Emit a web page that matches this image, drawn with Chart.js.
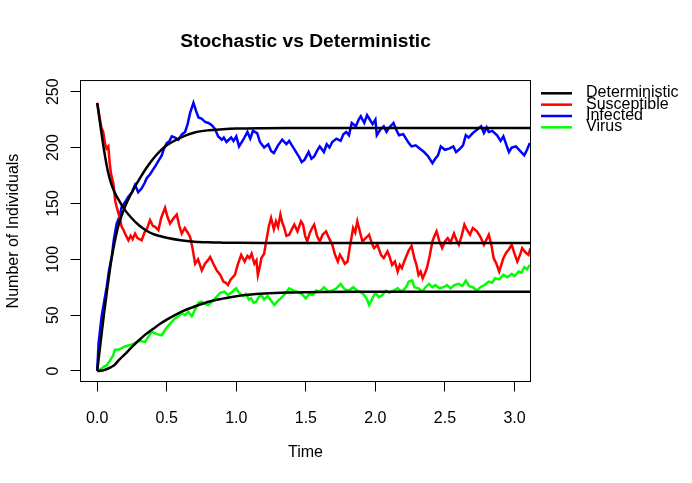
<!DOCTYPE html>
<html>
<head>
<meta charset="utf-8">
<script src="https://cdn.jsdelivr.net/npm/chart.js@4"></script>
<style>
  body { margin: 0; background: #fff; }
  canvas { display: block; }
</style>
</head>
<body>
<canvas id="myChart" width="692" height="483"></canvas>
<script>
// stochastic run
const infTime = [0, 0.01, 0.032, 0.05, 0.068, 0.085, 0.104, 0.12, 0.14, 0.16, 0.176, 0.2, 0.224, 0.25, 0.272, 0.295, 0.32, 0.34, 0.356, 0.38, 0.4, 0.416, 0.44, 0.464, 0.48, 0.5, 0.52, 0.536, 0.56, 0.584, 0.61, 0.632, 0.65, 0.668, 0.692, 0.71, 0.728, 0.75, 0.776, 0.8, 0.824, 0.845, 0.87, 0.896, 0.91, 0.93, 0.963, 0.98, 1.0, 1.02, 1.05, 1.08, 1.1, 1.12, 1.15, 1.17, 1.2, 1.23, 1.25, 1.27, 1.3, 1.33, 1.36, 1.38, 1.4, 1.43, 1.45, 1.47, 1.49, 1.52, 1.54, 1.56, 1.58, 1.6, 1.63, 1.65, 1.67, 1.69, 1.72, 1.75, 1.77, 1.79, 1.81, 1.83, 1.86, 1.88, 1.895, 1.92, 1.94, 1.955, 1.98, 2.0, 2.01, 2.035, 2.06, 2.08, 2.1, 2.13, 2.15, 2.17, 2.2, 2.22, 2.24, 2.26, 2.29, 2.32, 2.35, 2.38, 2.41, 2.43, 2.45, 2.47, 2.5, 2.53, 2.56, 2.58, 2.6, 2.63, 2.65, 2.67, 2.7, 2.73, 2.76, 2.78, 2.8, 2.815, 2.84, 2.875, 2.9, 2.92, 2.94, 2.96, 2.98, 3.01, 3.04, 3.07, 3.09, 3.11];
const infected = [0, 25, 49, 62, 75, 90, 102, 118, 132, 138, 147, 151, 156, 160, 166.5, 160, 163.5, 168, 172.5, 176, 180, 183, 188, 193, 199, 204, 206, 210, 209, 207, 212, 214, 221, 231, 240, 233, 227, 226, 223, 222, 220, 217, 210, 207, 209, 205, 209, 206, 210, 201, 207, 214, 208, 215, 213, 205, 200, 203, 197, 195, 202, 207, 203, 206, 202, 196, 192, 187, 189, 196, 190, 192, 197, 201, 196, 203, 200, 205, 208, 206, 212, 214, 211, 222, 219, 225, 228, 222, 229, 226, 221, 225, 211, 216, 219, 214, 218, 222, 216, 211, 212, 208, 204, 201, 202, 199, 196, 192, 186, 190, 193, 201, 198, 199, 201, 196, 198, 202, 211, 209, 213, 216, 219, 213, 218, 214, 215, 211, 206, 210, 203, 196, 200, 201, 197, 193, 198, 204];

const susTime = [0, 0.01, 0.02, 0.03, 0.043, 0.056, 0.067, 0.08, 0.09, 0.1, 0.116, 0.13, 0.14, 0.16, 0.176, 0.19, 0.2, 0.224, 0.24, 0.255, 0.272, 0.29, 0.32, 0.34, 0.36, 0.38, 0.4, 0.416, 0.44, 0.46, 0.488, 0.505, 0.524, 0.545, 0.572, 0.59, 0.608, 0.63, 0.65, 0.668, 0.685, 0.704, 0.725, 0.752, 0.775, 0.795, 0.812, 0.835, 0.86, 0.885, 0.907, 0.925, 0.94, 0.96, 0.99, 1.01, 1.035, 1.06, 1.08, 1.095, 1.11, 1.13, 1.145, 1.155, 1.17, 1.18, 1.2, 1.215, 1.235, 1.25, 1.27, 1.285, 1.3, 1.317, 1.33, 1.345, 1.36, 1.38, 1.4, 1.417, 1.44, 1.465, 1.48, 1.495, 1.51, 1.53, 1.545, 1.56, 1.58, 1.6, 1.62, 1.645, 1.67, 1.69, 1.71, 1.73, 1.745, 1.76, 1.78, 1.8, 1.815, 1.84, 1.855, 1.87, 1.89, 1.907, 1.93, 1.955, 1.975, 1.99, 2.015, 2.04, 2.06, 2.087, 2.1, 2.12, 2.14, 2.16, 2.175, 2.19, 2.21, 2.24, 2.26, 2.28, 2.295, 2.31, 2.325, 2.34, 2.355, 2.37, 2.39, 2.41, 2.425, 2.44, 2.46, 2.48, 2.5, 2.52, 2.54, 2.565, 2.58, 2.6, 2.62, 2.64, 2.66, 2.68, 2.7, 2.73, 2.755, 2.78, 2.8, 2.815, 2.835, 2.85, 2.87, 2.89, 2.905, 2.92, 2.94, 2.96, 2.98, 3.0, 3.02, 3.04, 3.055, 3.08, 3.1, 3.115];
const susceptible = [240, 233, 225, 218, 214, 204, 199, 201, 186, 176, 168, 152, 147, 138, 129, 126, 123, 117, 121, 118, 123, 119, 117, 124, 128, 135, 130, 129, 126, 137, 146, 138, 132, 136, 140, 130, 123, 128, 124, 120, 110, 96, 100, 90, 96, 99, 102, 96, 90, 86, 80, 79, 77, 82, 86, 95, 104, 98, 103, 101, 105, 96, 99, 86, 94, 101, 105, 116, 130, 137, 127, 134, 129, 140, 133, 128, 121, 122, 127, 131, 125, 134, 131, 121, 116, 124, 128, 131, 121, 116, 122, 125, 118, 113, 104, 98, 104, 101, 96, 98, 110, 128, 124, 134, 124, 116, 119, 122, 114, 110, 113, 104, 101, 107, 103, 95, 98, 89, 95, 92, 99, 108, 112, 101, 95, 86, 89, 83, 87, 92, 103, 116, 121, 125, 116, 110, 116, 119, 115, 123, 118, 113, 121, 131, 126, 122, 128, 125, 120, 113, 118, 122, 112, 101, 96, 89, 95, 101, 106, 109, 113, 105, 98, 104, 110, 106, 104, 110];

const virTime = [0, 0.03, 0.05, 0.067, 0.09, 0.115, 0.128, 0.15, 0.17, 0.2, 0.23, 0.272, 0.3, 0.344, 0.37, 0.392, 0.43, 0.464, 0.5, 0.536, 0.56, 0.585, 0.608, 0.63, 0.655, 0.68, 0.7, 0.728, 0.75, 0.775, 0.8, 0.83, 0.856, 0.884, 0.915, 0.94, 0.963, 0.98, 1.0, 1.02, 1.047, 1.07, 1.09, 1.107, 1.125, 1.143, 1.16, 1.18, 1.2, 1.225, 1.25, 1.274, 1.3, 1.32, 1.35, 1.38, 1.41, 1.44, 1.47, 1.5, 1.525, 1.55, 1.575, 1.6, 1.63, 1.66, 1.69, 1.72, 1.75, 1.78, 1.81, 1.84, 1.87, 1.9, 1.92, 1.94, 1.955, 1.975, 2.0, 2.025, 2.05, 2.075, 2.1, 2.13, 2.16, 2.19, 2.22, 2.24, 2.265, 2.28, 2.31, 2.34, 2.36, 2.385, 2.41, 2.43, 2.46, 2.49, 2.515, 2.54, 2.57, 2.6, 2.625, 2.65, 2.675, 2.7, 2.73, 2.755, 2.785, 2.815, 2.84, 2.86, 2.89, 2.92, 2.95, 2.98, 3.0, 3.03, 3.05, 3.07, 3.09, 3.11];
const virus = [0, 2, 4, 5, 9, 14, 19, 19, 20, 22, 23, 25, 27, 26, 31, 35, 33, 32, 39, 44, 47, 49, 52, 50, 53, 49, 54, 61, 62, 60, 59, 63, 66, 70, 71, 68, 70, 72, 74, 70, 67, 69, 64, 65, 61, 62, 66, 68, 64, 67, 63, 59, 63, 65, 69, 74, 72, 71, 69, 65, 69, 68, 72, 71, 75, 71, 72, 74, 78, 73, 72, 75, 72, 70, 68, 64, 59, 64, 70, 66, 68, 72, 70, 72, 74, 71, 75, 80, 81, 75, 74, 71, 75, 78, 75, 77, 74, 75, 77, 74, 77, 78, 76, 81, 76, 75, 72, 75, 77, 80, 79, 83, 82, 86, 84, 87, 85, 89, 88, 93, 91, 95];

// deterministic solution
const detTime = [0, 0.025, 0.05, 0.075, 0.1, 0.125, 0.15, 0.2, 0.25, 0.3, 0.35, 0.4, 0.45, 0.5, 0.6, 0.7, 0.8, 0.9, 1.0, 1.2, 1.4, 1.6, 2.0, 2.5, 3.2];
const detS = [240, 218, 197, 180, 168, 160, 154, 144, 136.5, 130.5, 126, 122.8, 120.8, 119.2, 117, 115.8, 115.2, 114.9, 114.7, 114.5, 114.5, 114.5, 114.5, 114.5, 114.5];
const detI = [0, 26, 52, 76, 98, 115, 129, 147, 160, 171, 181, 189.5, 196.5, 202, 209, 213.5, 215.5, 216.4, 217, 217.4, 217.5, 217.5, 217.5, 217.5, 217.5];
const detV = [0, 0.2, 0.8, 2, 3.5, 5.5, 9, 15, 21.5, 27.5, 33, 37.5, 42, 46, 52.8, 57.7, 62, 64.8, 67, 69.3, 70.3, 70.8, 71, 71, 71];

const xTicks = [0, 0.5, 1, 1.5, 2, 2.5, 3];
const yTicks = [0, 50, 100, 150, 200, 250];
const legendNames = ["Deterministic", "Susceptible", "Infected", "Virus"];
const legendColors = ["#000000", "#ff0000", "#0000ff", "#00ff00"];

const FONT = "'Liberation Sans', Arial, Helvetica, sans-serif";

function pts(t, v) {
  return t.map((x, i) => ({ x: x, y: v[i] }));
}

function detLine(v) {
  return {
    data: pts(detTime, v),
    borderColor: "#000000",
    borderWidth: 2.5,
    pointRadius: 0,
    cubicInterpolationMode: "monotone",
  };
}

function stochLine(t, v, color) {
  return {
    data: pts(t, v),
    borderColor: color,
    borderWidth: 2.5,
    pointRadius: 0,
    tension: 0,
  };
}

// box round the plot + R style legend on the right
const rBits = {
  id: "rBits",
  afterDraw(chart) {
    const ctx = chart.ctx;
    const a = chart.chartArea;
    ctx.save();
    ctx.strokeStyle = "#000";
    ctx.lineWidth = 1;
    ctx.strokeRect(a.left, a.top, a.right - a.left, a.bottom - a.top);

    ctx.font = "16px " + FONT;
    ctx.textBaseline = "middle";
    ctx.textAlign = "left";
    for (let i = 0; i < legendNames.length; i++) {
      let y = 93.3 + i * 11.35;
      ctx.strokeStyle = legendColors[i];
      ctx.lineWidth = 2.5;
      ctx.beginPath();
      ctx.moveTo(541, y);
      ctx.lineTo(572, y);
      ctx.stroke();
      ctx.fillStyle = "#000";
      ctx.fillText(legendNames[i], 586, y - 0.5);
    }
    ctx.restore();
  },
};

const config = {
  type: "line",
  data: {
    datasets: [
      detLine(detS),
      detLine(detI),
      detLine(detV),
      stochLine(susTime, susceptible, legendColors[1]),
      stochLine(infTime, infected, legendColors[2]),
      stochLine(virTime, virus, legendColors[3]),
    ],
  },
  options: {
    responsive: false,
    animation: false,
    devicePixelRatio: 1,
    layout: { padding: { left: 0, right: 161.5, top: 0, bottom: 0 } },
    plugins: {
      legend: { display: false },
      tooltip: { enabled: false },
      title: {
        display: true,
        text: "Stochastic vs Deterministic",
        fullSize: false,
        color: "#000",
        font: { family: FONT, size: 19.2, weight: "bold" },
        padding: { top: 30, bottom: 27.5 },
      },
    },
    scales: {
      x: {
        type: "linear",
        min: -0.12,
        max: 3.115,
        afterFit: (s) => { s.height = 101.5; },
        afterBuildTicks: (s) => { s.ticks = xTicks.map((v) => ({ value: v })); },
        border: { display: false },
        grid: { drawOnChartArea: false, drawTicks: true, tickLength: 10, color: "#000" },
        ticks: {
          color: "#000",
          font: { family: FONT, size: 16 },
          padding: 17,
          maxRotation: 0,
          autoSkip: false,
          callback: (v) => v.toFixed(1),
        },
        title: {
          display: true,
          text: "Time",
          color: "#000",
          font: { family: FONT, size: 16 },
          padding: { bottom: 21 },
        },
      },
      y: {
        type: "linear",
        min: -9.4,
        max: 260,
        afterFit: (s) => { s.width = 80.5; },
        afterBuildTicks: (s) => { s.ticks = yTicks.map((v) => ({ value: v })); },
        border: { display: false },
        grid: { drawOnChartArea: false, drawTicks: true, tickLength: 10, color: "#000" },
        ticks: {
          color: "#000",
          font: { family: FONT, size: 16 },
          padding: 3.5,
          minRotation: 90,
          maxRotation: 90,
          crossAlign: "center",
          autoSkip: false,
          callback: (v) => String(v),
        },
        title: {
          display: true,
          text: "Number of Individuals",
          color: "#000",
          font: { family: FONT, size: 16 },
          padding: { top: 3.5 },
        },
      },
    },
  },
  plugins: [rBits],
};

new Chart(document.getElementById("myChart"), config);
</script>
</body>
</html>
